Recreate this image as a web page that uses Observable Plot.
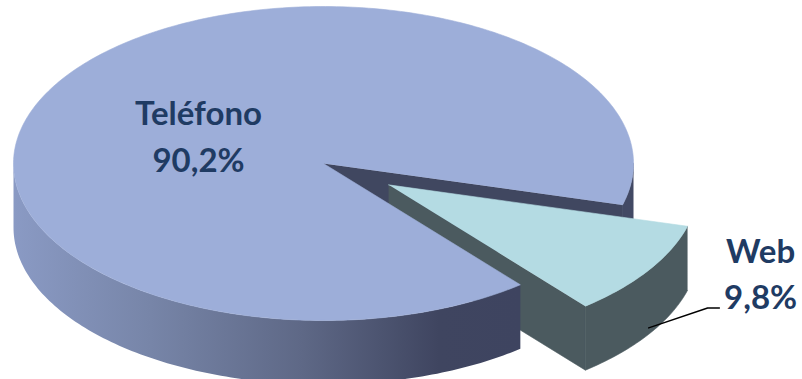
<!DOCTYPE html>
<html><head><meta charset="utf-8">
<script src="https://cdn.jsdelivr.net/npm/d3@7"></script>
<script src="https://cdn.jsdelivr.net/npm/@observablehq/plot@0.6"></script>
<style>html,body{margin:0;padding:0;background:#fff;}</style>
</head><body><div id="chart"></div>
<script>
// ---- data ----
const categories = ["Web", "Teléfono"];          // clockwise order from start angle
const values = [9.8, 90.2];
const valueLabels = ["9,8%", "90,2%"];
const topColors = ["#b4dbe3", "#9daed9"];

// ---- layout (units of the pie radius) ----
const W = 802, H = 379;
const cxPx = 323, cyPx = 163, rxPx = 310, ryPx = 157;
const depth = 0.408;      // side height (y units)
const startDeg = 15.3;    // angle where the first slice starts (clockwise, screen)
const explode = [0.25, 0];
const rad = d => d * Math.PI / 180;

// slice angles from values
const total = d3.sum(values);
let acc = startDeg;
const slices = categories.map((c, i) => {
  const a0 = acc, a1 = acc + values[i] / total * 360;
  acc = a1;
  const mid = rad((a0 + a1) / 2);
  return {c, i, a0, a1, off: {x: explode[i] * Math.cos(mid), y: explode[i] * Math.sin(mid)}, mid};
});

const pt = (deg, off, dz = 0, r = 1, id = "") => ({x: off.x + r * Math.cos(rad(deg)), y: off.y + r * Math.sin(rad(deg)) + dz, id});
function arc(a0, a1, off, dz, id) {
  const n = Math.max(2, Math.ceil(Math.abs(a1 - a0)));
  return d3.range(n + 1).map(k => pt(a0 + (a1 - a0) * k / n, off, dz, 1, id));
}
const sidePoly = (a0, a1, off, id) => [...arc(a0, a1, off, 0, id), ...arc(a1, a0, off, depth, id)];
const radialPoly = (a, off, id) => [{x: off.x, y: off.y, id}, pt(a, off, 0, 1, id), pt(a, off, depth, 1, id), {x: off.x, y: off.y + depth, id}];
const topPoly = (a0, a1, off, id) => [{x: off.x, y: off.y, id}, ...arc(a0, a1, off, 0, id)];

const web = slices[0], main = slices[1];

const mainCut = radialPoly(main.a1, main.off, "mc");            // face at end of main (visible)
const mainRight = sidePoly(360, main.a1, main.off, "mr");       // right small visible side
const webLeft = radialPoly(web.a1, web.off, "wl");
const webSide = sidePoly(web.a0, web.a1, web.off, "ws");
const webTop = topPoly(web.a0, web.a1, web.off, "wt");
const mainFront = sidePoly(main.a0, 180, main.off, "mf");
const mainTop = topPoly(main.a0, main.a1, main.off, "mt");

const poly = (data, fill, stroke) => Plot.line(data, {x: "x", y: "y", fill, stroke: stroke ?? fill, strokeWidth: stroke === "none" ? 0 : 0.6, curve: "linear"});

// leader line for Web label
const leaderStart = {x: web.off.x + Math.cos(web.mid), y: web.off.y + Math.sin(web.mid) + depth * 0.9};
const leader = [leaderStart, {x: 1.239, y: 0.92}, {x: 1.277, y: 0.92}];

const labelPos = {
  "Teléfono": {x: -0.403, y1: -0.31, y2: -0.016},
  "Web": {x: 1.41, y1: 0.569, y2: 0.862}
};
const labels = slices.map(s => ({name: s.c, value: valueLabels[s.i], ...labelPos[s.c]}));

const textColor = "#1f3b63";
const plot = Plot.plot({
  width: W, height: H, margin: 0,
  x: {domain: [(0 - cxPx) / rxPx, (W - cxPx) / rxPx], range: [0, W], axis: null},
  y: {domain: [(0 - cyPx) / ryPx, (H - cyPx) / ryPx], range: [0, H], axis: null},
  style: {background: "#fff"},
  marks: [
    poly(mainCut, "#404760"),
    poly(mainRight, "#424964"),
    poly(webLeft, "#4b5a5f"),
    poly(webSide, "#4b5a5f"),
    poly(webTop, topColors[0]),
    poly(mainFront, "url(#sideGrad)", "none"),
    poly(mainTop, topColors[1]),
    Plot.line(leader, {x: "x", y: "y", stroke: "#000", strokeWidth: 1.5}),
    Plot.text(labels, {x: "x", y: "y1", text: "name", fill: textColor, fontSize: 33, fontWeight: "bold", fontFamily: "Lato", lineAnchor: "middle"}),
    Plot.text(labels, {x: "x", y: "y2", text: "value", fill: textColor, fontSize: 33, fontWeight: "bold", fontFamily: "Lato", lineAnchor: "middle"})
  ]
});

const defs = d3.select(plot).insert("defs", ":first-child");
const g = defs.append("linearGradient").attr("id", "sideGrad").attr("x1", 0).attr("x2", 1).attr("y1", 0).attr("y2", 0);
[[0, "#8a9ac4"], [0.27, "#7785a8"], [0.57, "#5e6886"], [0.84, "#3f4560"], [1, "#3e4460"]].forEach(([o, c]) => g.append("stop").attr("offset", o).attr("stop-color", c));

document.getElementById("chart").appendChild(plot);
</script>
</body></html>
